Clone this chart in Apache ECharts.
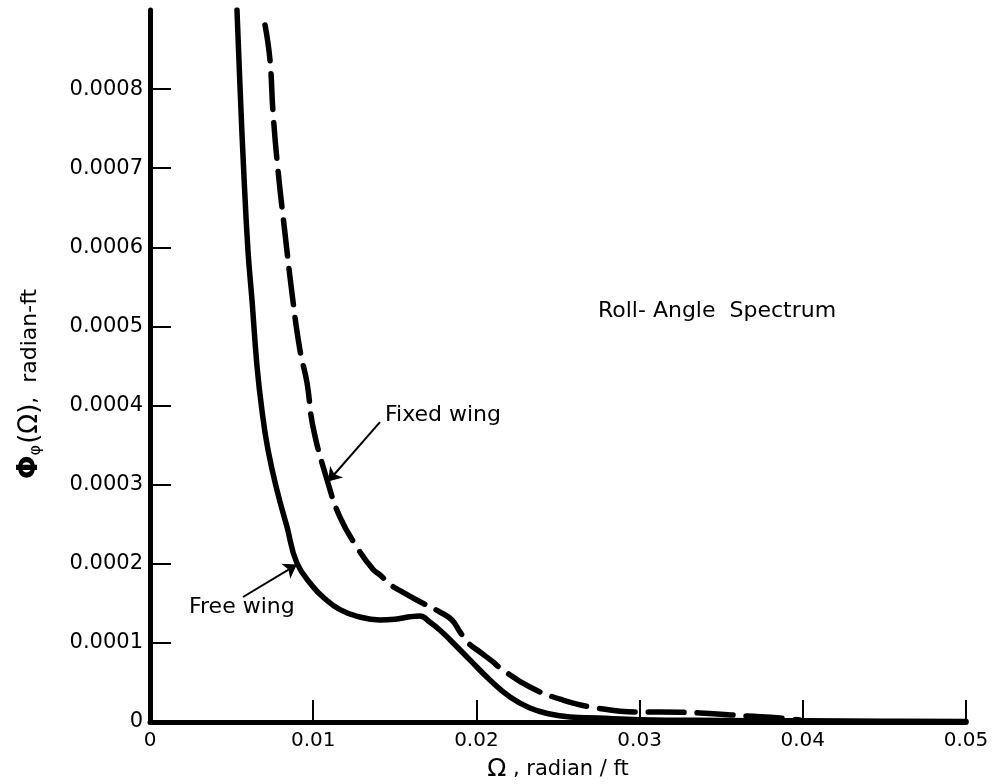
<!DOCTYPE html>
<html>
<head>
<meta charset="utf-8">
<script src="https://cdn.jsdelivr.net/npm/echarts@6/dist/echarts.min.js"></script>
<style>
  html, body { margin: 0; padding: 0; background: #ffffff; }
  #chart { width: 992px; height: 784px; }
</style>
</head>
<body>
<div id="chart"></div>
<script>
// ---- Data ----
const xTicks = [0, 0.01, 0.02, 0.03, 0.04, 0.05];
const yTicks = [0, 0.0001, 0.0002, 0.0003, 0.0004, 0.0005, 0.0006, 0.0007, 0.0008];

// Free wing (solid)
const freeX = [0.00533, 0.00555, 0.00573, 0.0060, 0.00625, 0.00656, 0.00686, 0.00723, 0.00778, 0.00839, 0.0090, 0.00999, 0.0106, 0.01164, 0.0128, 0.01409, 0.0150, 0.01593, 0.01654, 0.01716, 0.01777, 0.01838, 0.0196, 0.02083, 0.02206, 0.02328, 0.0245, 0.02574, 0.0274, 0.030, 0.035, 0.040, 0.045, 0.050];
const freeY = [0.00090, 0.000786, 0.000702, 0.000597, 0.000533, 0.000449, 0.000394, 0.000344, 0.000293, 0.000247, 0.000201, 0.000171, 0.000158, 0.000142, 0.000133, 0.000129, 0.000130, 0.000133, 0.000134, 0.000126, 0.000116, 0.000104, 0.0000785, 0.0000531, 0.0000316, 0.0000177, 0.0000101, 0.0000063, 0.000005, 0.000003, 0.000002, 0.0000015, 0.000001, 0.0000005];

// Fixed wing (dashed)
const fixedX = [0.00705, 0.00735, 0.00754, 0.00784, 0.00827, 0.0087, 0.00919, 0.00962, 0.00999, 0.01085, 0.01164, 0.01268, 0.01366, 0.01409, 0.01471, 0.01532, 0.01654, 0.01777, 0.0185, 0.01899, 0.01949, 0.02022, 0.02102, 0.02145, 0.02328, 0.0253, 0.02739, 0.02984, 0.03125, 0.0337, 0.03658, 0.0386, 0.0398];
const fixedY = [0.000881, 0.000837, 0.000770, 0.000698, 0.000618, 0.000542, 0.000470, 0.000429, 0.000373, 0.000306, 0.000259, 0.000221, 0.000193, 0.000186, 0.000174, 0.000166, 0.000152, 0.000139, 0.000129, 0.000114, 0.000100, 0.0000885, 0.0000759, 0.0000683, 0.0000442, 0.0000278, 0.0000177, 0.0000126, 0.0000126, 0.0000114, 0.0000076, 0.0000051, 0.0000025];

// Annotations (data coordinates)
const freeArrow = [[0.0057, 0.000158], [0.0090, 0.000199]];
const fixedArrow = [[0.01409, 0.000379], [0.01091, 0.000304]];
const notes = [
  { text: 'Free wing', at: [0.00239, 0.000145] },
  { text: 'Fixed wing', at: [0.0144, 0.000388] },
  { text: 'Roll- Angle  Spectrum', at: [0.02745, 0.000519] }
];

const FONT = 'DejaVu Sans';
const zip = (xs, ys) => xs.map((x, i) => [x, ys[i]]);

const chart = echarts.init(document.getElementById('chart'), null, { renderer: 'canvas' });

const option = {
  animation: false,
  backgroundColor: '#ffffff',
  grid: { left: 150, right: 26, top: 10, bottom: 62, containLabel: false, outerBoundsMode: 'none' },
  xAxis: {
    type: 'value', min: 0, max: 0.05, interval: 0.01,
    name: '{om|Ω} , radian / ft',
    nameLocation: 'middle', nameGap: 35,
    nameTextStyle: {
      fontFamily: FONT, fontSize: 21, color: '#000',
      rich: { om: { fontFamily: FONT, fontSize: 25, color: '#000' } }
    },
    axisLine: { show: true, lineStyle: { color: '#000', width: 5 } },
    axisTick: { show: true, inside: true, length: 22, lineStyle: { color: '#000', width: 2 } },
    axisLabel: {
      margin: 9, fontFamily: FONT, fontSize: 20, color: '#000',
      formatter: v => (v === 0 ? '0' : v.toFixed(2))
    },
    splitLine: { show: false }
  },
  yAxis: {
    type: 'value', min: 0, max: 0.0009, interval: 0.0001,
    name: '{big|Φ}{sub|φ}{par|(Ω)},  radian-ft',
    nameLocation: 'middle', nameGap: 106,
    nameTextStyle: {
      fontFamily: FONT, fontSize: 22, color: '#000',
      padding: [0, 36, 0, 0],
      rich: {
        big: { fontFamily: FONT, fontSize: 28, fontWeight: 'bold', color: '#000' },
        sub: { fontFamily: FONT, fontSize: 16, color: '#000', verticalAlign: 'bottom', padding: [10, 1, 0, 0] },
        par: { fontFamily: FONT, fontSize: 26, color: '#000' }
      }
    },
    axisLine: { show: true, lineStyle: { color: '#000', width: 5 } },
    axisTick: { show: true, inside: true, length: 21, customValues: yTicks, lineStyle: { color: '#000', width: 2 } },
    axisLabel: {
      margin: 7, fontFamily: FONT, fontSize: 21, color: '#000', customValues: yTicks,
      formatter: v => (v === 0 ? '0' : v.toFixed(4))
    },
    splitLine: { show: false }
  },
  series: [
    {
      name: 'Free wing', type: 'line', data: zip(freeX, freeY),
      showSymbol: false, symbol: 'none', smooth: 0.45,
      lineStyle: { color: '#000', width: 5.5, cap: 'round', join: 'round' },
      emphasis: { disabled: true },
      markLine: {
        silent: true, animation: false, symbol: ['none', 'arrow'], symbolSize: 13,
        label: { show: false },
        lineStyle: { type: 'solid', color: '#000', width: 2 },
        data: [[{ coord: freeArrow[0] }, { coord: freeArrow[1] }]]
      }
    },
    {
      name: 'Fixed wing', type: 'line', data: zip(fixedX, fixedY),
      showSymbol: false, symbol: 'none', smooth: 0.45,
      lineStyle: { color: '#000', width: 5.5, type: [36, 13], cap: 'round', join: 'round' },
      emphasis: { disabled: true },
      markLine: {
        silent: true, animation: false, symbol: ['none', 'arrow'], symbolSize: 13,
        label: { show: false },
        lineStyle: { type: 'solid', color: '#000', width: 2 },
        data: [[{ coord: fixedArrow[0] }, { coord: fixedArrow[1] }]]
      }
    }
  ]
};

chart.setOption(option);

const graphics = notes.map(n => {
  const p = chart.convertToPixel({ gridIndex: 0 }, n.at);
  return {
    type: 'text', x: p[0], y: p[1], silent: true,
    style: { text: n.text, fill: '#000', fontFamily: FONT, fontSize: 22, verticalAlign: 'middle', align: 'left' }
  };
});
chart.setOption({ graphic: graphics });
</script>
</body>
</html>
